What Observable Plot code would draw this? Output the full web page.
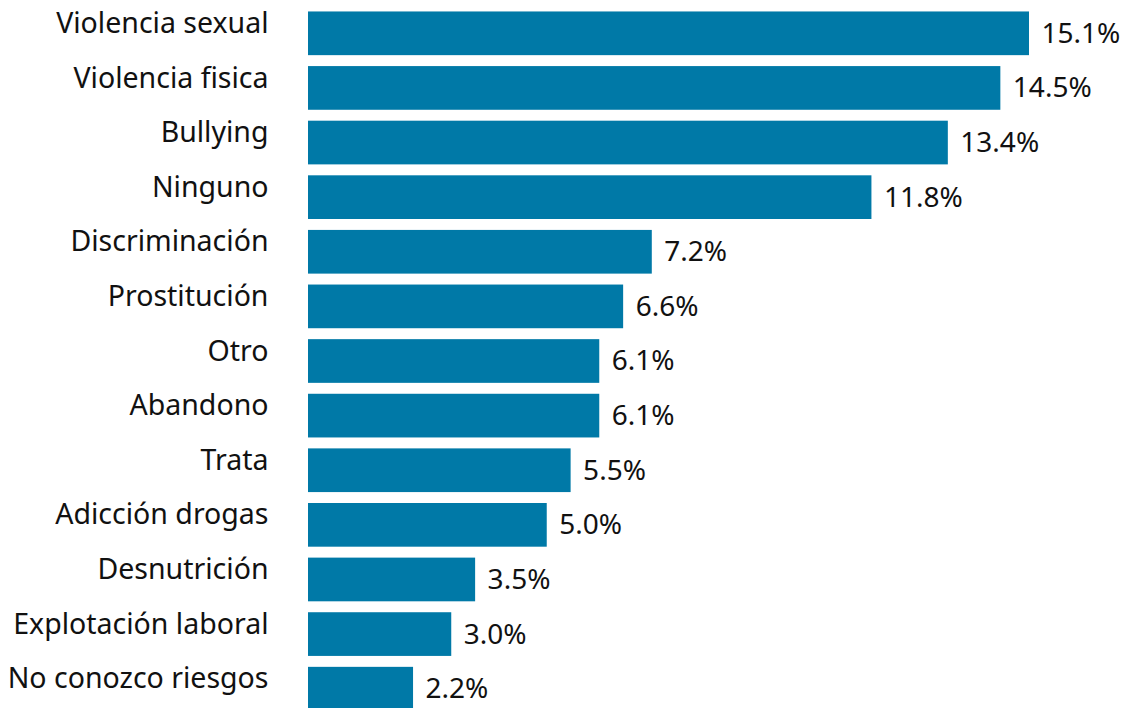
<!DOCTYPE html>
<html>
<head>
<meta charset="utf-8">
<script src="https://cdn.jsdelivr.net/npm/d3@7"></script>
<script src="https://cdn.jsdelivr.net/npm/@observablehq/plot@0.6"></script>
<style>
  html, body { margin: 0; padding: 0; background: #fff; overflow: hidden; }
  #chart svg { display: block; }
</style>
</head>
<body>
<div id="chart"></div>
<script>
const categories = [
  "Violencia sexual", "Violencia fisica", "Bullying", "Ninguno", "Discriminación",
  "Prostitución", "Otro", "Abandono", "Trata", "Adicción drogas",
  "Desnutrición", "Explotación laboral", "No conozco riesgos"
];
const values = [15.1, 14.5, 13.4, 11.8, 7.2, 6.6, 6.1, 6.1, 5.5, 5.0, 3.5, 3.0, 2.2];
const valueLabels = ["15.1%", "14.5%", "13.4%", "11.8%", "7.2%", "6.6%", "6.1%", "6.1%", "5.5%", "5.0%", "3.5%", "3.0%", "2.2%"];

const data = categories.map((c, i) => ({category: c, value: values[i], label: valueLabels[i]}));

const chart = Plot.plot({
  width: 1121,
  height: 708,
  marginLeft: 0,
  marginRight: 0,
  marginTop: 0,
  marginBottom: 0,
  style: {fontFamily: "Noto Sans, sans-serif", background: "#fff", overflow: "hidden"},
  x: {domain: [0, 15.1], range: [308, 1029], axis: null},
  y: {domain: categories, range: [6, 716], paddingInner: 0.2, paddingOuter: 0.1, round: false, axis: null},
  marks: [
    Plot.barX(data, {x: "value", y: "category", fill: "#0079a7"}),
    Plot.text(data, {x: 0, y: "category", text: "category", textAnchor: "end", dx: -40, dy: -10, fontSize: 28.5, fill: "#111"}),
    Plot.text(data, {x: "value", y: "category", text: "label", textAnchor: "start", dx: 12, dy: 0, fontSize: 28, fill: "#111"})
  ]
});
document.getElementById("chart").appendChild(chart);
</script>
</body>
</html>
